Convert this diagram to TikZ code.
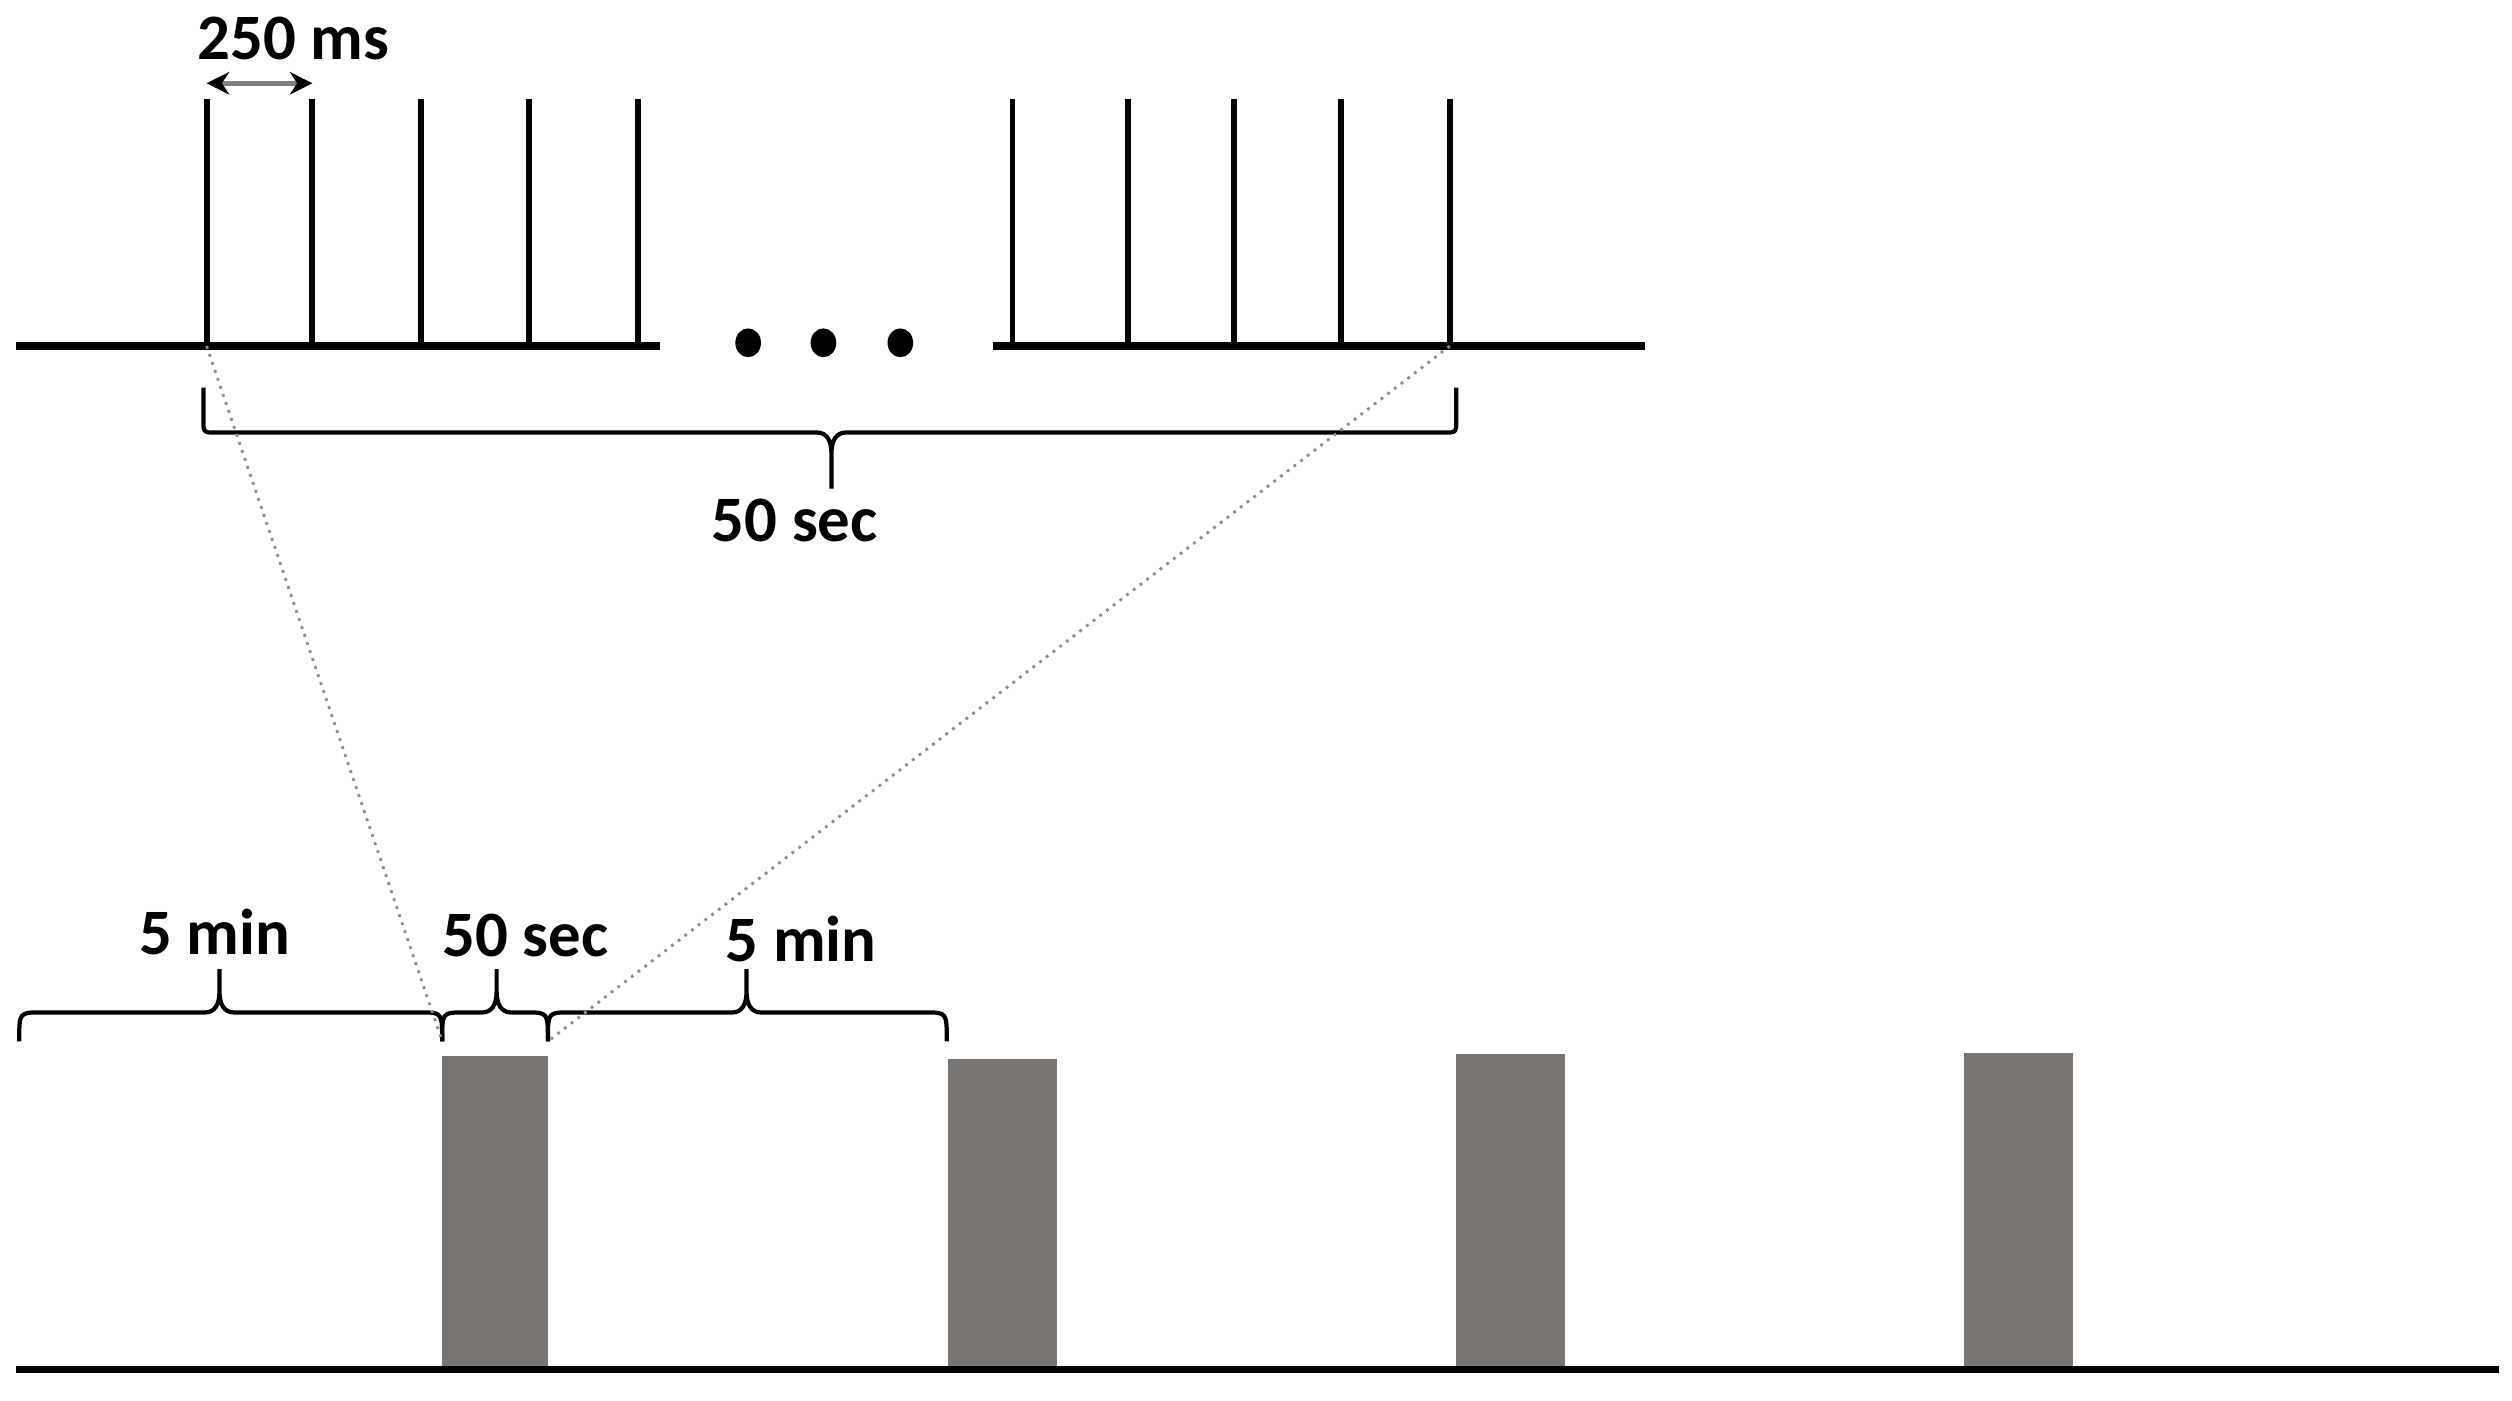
\documentclass[tikz,border=0pt]{standalone}
\usepackage{fontspec}
\setmainfont{Carlito}
\usetikzlibrary{arrows.meta}
\definecolor{barcol}{RGB}{120,116,114}
\definecolor{dotcol}{RGB}{140,140,140}
\tikzset{
  baseline line/.style={line width=1.45pt, line cap=butt},
  spike/.style={line width=1.05pt},
  lbl/.style={font=\fontsize{11.5}{14}\selectfont\bfseries, inner sep=0pt, anchor=base},
  bracestyle/.style={line width=0.75pt, line join=round},
  zoomline/.style={dotcol, densely dotted, line width=0.5pt},
  bar/.style={fill=barcol},
}
% brace opening downward, tip up: L,R,M,B(end y),H(horizontal y),P(tip y)
\newcommand{\myBraceUp}[6]{%
  \draw[bracestyle] (#1,#4) .. controls (#1,#5) .. ({#1+13},#5) -- ({#3-9},#5)
     .. controls ({#3-3},#5) and (#3,{#5-5}) .. (#3,{#5-13}) -- (#3,#6)
     (#2,#4) .. controls (#2,#5) .. ({#2-13},#5) -- ({#3+9},#5)
     .. controls ({#3+3},#5) and (#3,{#5-5}) .. (#3,{#5-13});}
% brace opening upward, tip down: L,R,M,T(end y),H(horizontal y),P(tip y)
\newcommand{\myBraceDown}[6]{%
  \draw[bracestyle] (#1,#4) -- (#1,{#5-7}) .. controls (#1,#5) .. ({#1+7},#5) -- ({#3-9},#5)
     .. controls ({#3-3},#5) and (#3,{#5+5}) .. (#3,{#5+13}) -- (#3,#6)
     (#2,#4) -- (#2,{#5-7}) .. controls (#2,#5) .. ({#2-7},#5) -- ({#3+9},#5)
     .. controls ({#3+3},#5) and (#3,{#5+5}) .. (#3,{#5+13});}
\begin{document}
\begin{tikzpicture}[x=0.01cm, y=-0.01cm]
\useasboundingbox (0,0) rectangle (1568,874);
% top spike trains
\draw[baseline line] (10,216) -- (412,216);
\draw[baseline line] (620,216) -- (1027,216);
\foreach \i/\x in {1/129,2/195,3/263,4/330,5/398,6/632,7/704,8/770,9/837,10/905} {
  \coordinate (s\i) at (\x,216);
  \coordinate (st\i) at (\x,62);
  \draw[spike] (s\i) -- (st\i);
}
% ellipsis dots
\foreach \x in {467,514,562} \fill (\x,214) ellipse [x radius=0.08cm, y radius=0.09cm];
% 250 ms arrow
\coordinate (a1) at (129,52);
\coordinate (a2) at (195,52);
\draw[gray, line width=0.9pt, {Stealth[black,length=4pt,width=4pt]}-{Stealth[black,length=4pt,width=4pt]}] (a1) -- (a2);
\node[lbl] (t250) at (183,37) {250 ms};
% top brace
\myBraceDown{127}{909}{519}{242}{270}{305}
\node[lbl] (t50a) at (496,338) {50 sec};
% bars
\fill[bar] (276,659) rectangle (342,854);
\fill[bar] (592,661) rectangle (660,854);
\fill[bar] (909,658) rectangle (977,854);
\fill[bar] (1226,657) rectangle (1294,854);
% bottom baseline
\coordinate (bl) at (10,855);
\coordinate (br) at (1560,855);
\draw[line width=1.3pt] (bl) -- (br);
% bottom braces
\coordinate (b1) at (276,650);
\coordinate (b2) at (342,650);
\myBraceUp{12}{276}{137}{650}{632}{605}
\myBraceUp{276}{342}{310}{650}{632}{605}
\myBraceUp{342}{591}{466}{650}{632}{605}
\node[lbl] (t5a) at (134,596) {5 min};
\node[lbl] (t50b) at (328,597) {50 sec};
\node[lbl] (t5b) at (500,600) {5 min};
% zoom lines
\draw[zoomline] (s1) -- (b1);
\draw[zoomline] (s10) -- (b2);
\end{tikzpicture}
\end{document}
